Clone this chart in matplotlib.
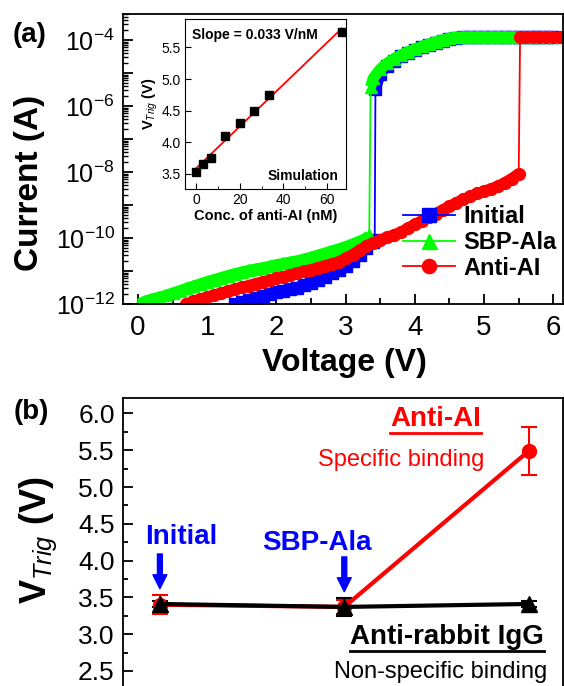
import numpy as np
import matplotlib
matplotlib.use('Agg')
import matplotlib.pyplot as plt
from matplotlib.ticker import LogLocator, FuncFormatter, MultipleLocator, NullFormatter, FormatStrFormatter
from matplotlib.lines import Line2D
from matplotlib.transforms import offset_copy

plt.rcParams['font.family'] = ['Liberation Sans', 'DejaVu Sans']
plt.rcParams['mathtext.fontset'] = 'custom'
plt.rcParams['mathtext.rm'] = 'Liberation Sans'
plt.rcParams['mathtext.it'] = 'Liberation Sans:italic'
plt.rcParams['mathtext.bf'] = 'Liberation Sans:bold'

# (a) I-V sweeps, current kept as log10(I / A)
v_init = [1.4, 1.5, 1.6, 1.7, 1.8, 1.9, 2.0, 2.1, 2.2, 2.3, 2.4, 2.5, 2.6, 2.7, 2.8, 2.9,
          3.0, 3.1, 3.2, 3.3, 3.4, 3.42, 3.43, 3.5, 3.6, 3.7, 3.8, 3.9, 4.0, 4.1, 4.2, 4.3,
          4.4, 4.5, 4.6, 4.7, 4.8, 4.9, 5.0, 5.1, 5.2, 5.3, 5.4, 5.5, 5.6, 5.7, 5.8, 5.9, 6.0]
logi_init = [-12.0, -11.95, -11.89, -11.83, -11.77, -11.71, -11.65, -11.60, -11.55, -11.50,
             -11.43, -11.36, -11.27, -11.17, -11.07, -10.97, -10.86, -10.70, -10.50, -10.30,
             -10.12, -10.05, -5.48, -5.02, -4.78, -4.62, -4.49, -4.39, -4.30, -4.22, -4.15,
             -4.08, -4.02, -3.97, -3.93, -3.91, -3.90, -3.90, -3.90, -3.90, -3.90, -3.90,
             -3.90, -3.90, -3.90, -3.90, -3.90, -3.90, -3.90]

v_sbp = [0.02, 0.1, 0.2, 0.3, 0.4, 0.5, 0.6, 0.7, 0.8, 0.9, 1.0, 1.1, 1.2, 1.3, 1.4, 1.5,
         1.6, 1.7, 1.8, 1.9, 2.0, 2.1, 2.2, 2.3, 2.4, 2.5, 2.6, 2.7, 2.8, 2.9, 3.0, 3.1,
         3.2, 3.3, 3.34, 3.36, 3.4, 3.5, 3.6, 3.7, 3.8, 3.9, 4.0, 4.1, 4.2, 4.3, 4.4, 4.5,
         4.6, 4.7, 4.8, 4.9, 5.0, 5.1, 5.2, 5.3, 5.4, 5.5, 5.6, 5.7, 5.8, 5.9, 6.0]
logi_sbp = [-12.0, -11.92, -11.85, -11.80, -11.74, -11.67, -11.60, -11.53, -11.46, -11.39,
            -11.32, -11.26, -11.20, -11.14, -11.08, -11.03, -10.98, -10.94, -10.90, -10.86,
            -10.81, -10.77, -10.73, -10.69, -10.64, -10.58, -10.52, -10.46, -10.39, -10.33,
            -10.26, -10.18, -10.10, -10.00, -9.92, -5.42, -5.15, -4.88, -4.70, -4.56, -4.45,
            -4.35, -4.27, -4.19, -4.12, -4.05, -3.99, -3.94, -3.91, -3.90, -3.90, -3.90,
            -3.90, -3.90, -3.90, -3.90, -3.90, -3.90, -3.90, -3.90, -3.90, -3.90, -3.90]

v_anti = [0.7, 0.8, 0.9, 1.0, 1.1, 1.2, 1.3, 1.4, 1.5, 1.6, 1.7, 1.8, 1.9, 2.0, 2.1, 2.2,
          2.3, 2.4, 2.5, 2.6, 2.7, 2.8, 2.9, 3.0, 3.1, 3.2, 3.3, 3.4, 3.5, 3.6, 3.7, 3.8,
          3.9, 4.0, 4.1, 4.2, 4.3, 4.4, 4.5, 4.6, 4.7, 4.8, 4.9, 5.0, 5.1, 5.2, 5.3, 5.4,
          5.5, 5.52, 5.6, 5.7, 5.8, 5.9, 6.0, 6.1, 6.2]
logi_anti = [-12.0, -11.92, -11.85, -11.79, -11.73, -11.67, -11.61, -11.55, -11.49, -11.44,
             -11.38, -11.33, -11.28, -11.22, -11.17, -11.12, -11.06, -11.01, -10.96, -10.90,
             -10.84, -10.78, -10.72, -10.62, -10.50, -10.37, -10.24, -10.14, -10.06, -9.98,
             -9.90, -9.82, -9.70, -9.59, -9.48, -9.37, -9.26, -9.15, -9.04, -8.93, -8.83,
             -8.74, -8.65, -8.58, -8.51, -8.43, -8.32, -8.20, -8.05, -3.90, -3.90, -3.90,
             -3.90, -3.90, -3.90, -3.90, -3.90]

# inset: simulated trigger voltage vs concentration
conc = [0, 3.3, 6.7, 13.3, 20, 26.7, 33.3, 66.7]
vtrig_sim = [3.53, 3.66, 3.75, 4.10, 4.30, 4.49, 4.75, 5.74]

# (b) trigger voltage per stage
stages = [1, 2, 3]
stage_names = ['Initial', 'SBP-Ala']
vtrig_anti = [3.40, 3.37, 5.49]
err_anti = [0.13, 0.10, 0.32]
vtrig_igg = [3.41, 3.37, 3.41]
err_igg = [0.04, 0.12, 0.04]

W, H = 564, 686
def fx(px):
    return px / W
def fy(py):
    return 1 - py / H

fig = plt.figure(figsize=(W / 100, H / 100), dpi=100)

# ---- panel (a)
ax1 = fig.add_axes([fx(123), fy(304), 440 / W, 290 / H])
series = [(v_init, logi_init, '#0000ff', 's', 8, 'Initial'),
          (v_sbp, logi_sbp, '#00ff00', '^', 9, 'SBP-Ala'),
          (v_anti, logi_anti, '#ff0000', 'o', 8.5, 'Anti-AI')]
for v, li, c, m, ms, lab in series:
    v = np.array(v)
    li = np.array(li)
    # dense sweeps look like a solid band: thick line between the switching jumps
    cuts = np.where(np.abs(np.diff(li)) > 1)[0] + 1
    for vs, ls in zip(np.split(v, cuts), np.split(li, cuts)):
        ax1.plot(vs, 10 ** ls, color=c, lw=8, solid_capstyle='butt')
    ax1.plot(v, 10 ** li, color=c, marker=m, ms=ms, mec=c, lw=1.3, label=lab)
ax1.set_yscale('log')
ax1.set_xlim(-0.217, 6.14)
ax1.set_ylim(1e-12, 10 ** -3.21)
ax1.xaxis.set_major_locator(MultipleLocator(1))
ax1.xaxis.set_minor_locator(MultipleLocator(0.5))
ax1.yaxis.set_major_locator(LogLocator(base=10, numticks=20))
ax1.yaxis.set_minor_locator(LogLocator(base=10, subs=np.arange(2, 10), numticks=20))
ax1.yaxis.set_minor_formatter(NullFormatter())
ax1.yaxis.set_major_formatter(FuncFormatter(
    lambda v, p: r'$\mathdefault{10^{%d}}$' % round(np.log10(v)) if round(np.log10(v)) % 2 == 0 else ''))
ax1.tick_params(which='both', direction='in', top=False, right=False, width=1.3)
ax1.tick_params(axis='x', which='major', length=7, labelsize=20, pad=8)
ax1.tick_params(axis='x', which='minor', length=4)
ax1.tick_params(axis='y', which='major', length=7, labelsize=18, pad=6)
ax1.tick_params(axis='y', which='minor', length=3.5, width=1)
for s in ax1.spines.values():
    s.set_linewidth(1.3)
ax1.legend(loc='upper left', bbox_to_anchor=(fx(403), fy(205)), bbox_transform=fig.transFigure,
           frameon=False, prop={'weight': 'bold', 'size': 17}, handlelength=2.2,
           handletextpad=0.35, labelspacing=0.12, borderpad=0, borderaxespad=0, markerscale=1.2)

fig.text(fx(344), fy(363), 'Voltage (V)', ha='center', va='center', fontsize=23, fontweight='bold')
fig.text(fx(30), fy(183), 'Current (A)', rotation=90, ha='center', va='center', fontsize=24, fontweight='bold')
fig.text(fx(30), fy(35), '(a)', ha='center', va='center', fontsize=20, fontweight='bold')

# inset
axin = fig.add_axes([fx(185), fy(189), 160.7 / W, 170 / H])
axin.plot(conc, vtrig_sim, 's', color='k', ms=5.5, zorder=3)
fit = np.polyfit(conc, vtrig_sim, 1)
xf = np.array([min(conc) - 0.5, max(conc)])
axin.plot(xf, np.polyval(fit, xf), color='#ff0000', lw=1.3)
axin.set_xlim(-5, 68.5)
axin.set_ylim(3.26, 5.95)
axin.xaxis.set_major_locator(MultipleLocator(20))
axin.xaxis.set_minor_locator(MultipleLocator(10))
axin.yaxis.set_major_locator(MultipleLocator(0.5))
axin.tick_params(which='both', direction='in', top=False, right=False, labelsize=10, pad=3)
axin.tick_params(which='major', length=4)
axin.tick_params(which='minor', length=2)
axin.set_xlabel('Conc. of anti-AI (nM)', fontsize=10.5, fontweight='bold', labelpad=1)
axin.set_ylabel(r'$\mathbf{V}_{Trig}$ (V)', fontsize=10.5, fontweight='bold', labelpad=1)
axin.text(0.044, 0.906, 'Slope = 0.033 V/nM', transform=axin.transAxes, fontsize=10,
          fontweight='bold', va='center', ha='left')
axin.text(0.958, 0.076, 'Simulation', transform=axin.transAxes, fontsize=10,
          fontweight='bold', va='center', ha='right')

# ---- panel (b), bottom edge runs past the figure like the original crop
ax2 = fig.add_axes([fx(123), fy(693), 440 / W, 295 / H])
ax2.errorbar(stages, vtrig_anti, yerr=err_anti, color='#ff0000', marker='o', ms=10, lw=3,
             capsize=6, elinewidth=1.5, capthick=1.5)
ax2.errorbar(stages, vtrig_igg, yerr=err_igg, color='k', marker='^', ms=12, lw=3,
             capsize=6, elinewidth=1.5, capthick=1.5)
ax2.set_xlim(0.80, 3.186)
ax2.set_ylim(2.2, 6.21)
ax2.set_xticks([])
ax2.yaxis.set_major_locator(MultipleLocator(0.5))
ax2.yaxis.set_minor_locator(MultipleLocator(0.25))
ax2.yaxis.set_major_formatter(FormatStrFormatter('%.1f'))
ax2.tick_params(which='both', direction='in', right=False, width=1.3)
ax2.tick_params(axis='y', which='major', length=7, labelsize=19, pad=6)
ax2.tick_params(axis='y', which='minor', length=3.5)
for s in ax2.spines.values():
    s.set_linewidth(1.3)

fig.text(fx(38), fy(540), r'$\mathbf{V}_{Trig}$ (V)', rotation=90, ha='center', va='center',
         fontsize=26, fontweight='bold')
fig.text(fx(31), fy(412), '(b)', ha='center', va='center', fontsize=20, fontweight='bold')

# stage labels + arrows (positions in axes fraction)
label_pos = [(0.132, 0.530),
             (0.441, 0.507)]
for i, name in enumerate(stage_names):
    ax2.text(*label_pos[i], name, transform=ax2.transAxes, color='#0000ff', fontsize=20,
             fontweight='bold', ha='center', va='center')
    tip = offset_copy(ax2.transData, fig=fig, y=11, units='points')
    ax2.annotate('', xy=(stages[i], vtrig_igg[i]), xycoords=tip, xytext=(0, 25),
                 textcoords='offset points',
                 arrowprops=dict(facecolor='#0000ff', edgecolor='#0000ff', width=3.5,
                                 headwidth=10, headlength=10, shrink=0))

t_anti = ax2.text(0.710, 0.929, 'Anti-AI', transform=ax2.transAxes, color='#ff0000', fontsize=20,
                  fontweight='bold', ha='center', va='center')
ax2.text(0.6325, 0.790, 'Specific binding', transform=ax2.transAxes, color='#ff0000', fontsize=17,
         ha='center', va='center')
t_igg = ax2.text(0.736, 0.191, 'Anti-rabbit IgG', transform=ax2.transAxes, color='k', fontsize=20,
                 fontweight='bold', ha='center', va='center')
ax2.text(0.723, 0.072, 'Non-specific binding', transform=ax2.transAxes, color='k', fontsize=17,
         ha='center', va='center')

# underline the two group titles
fig.canvas.draw()
renderer = fig.canvas.get_renderer()
for t, c in [(t_anti, '#ff0000'), (t_igg, 'k')]:
    bb = t.get_window_extent(renderer)
    fig.add_artist(Line2D([bb.x0 / W, bb.x1 / W], [(bb.y0 - 1) / H] * 2,
                          transform=fig.transFigure, color=c, lw=2))

fig.savefig('out.png', dpi=100)
